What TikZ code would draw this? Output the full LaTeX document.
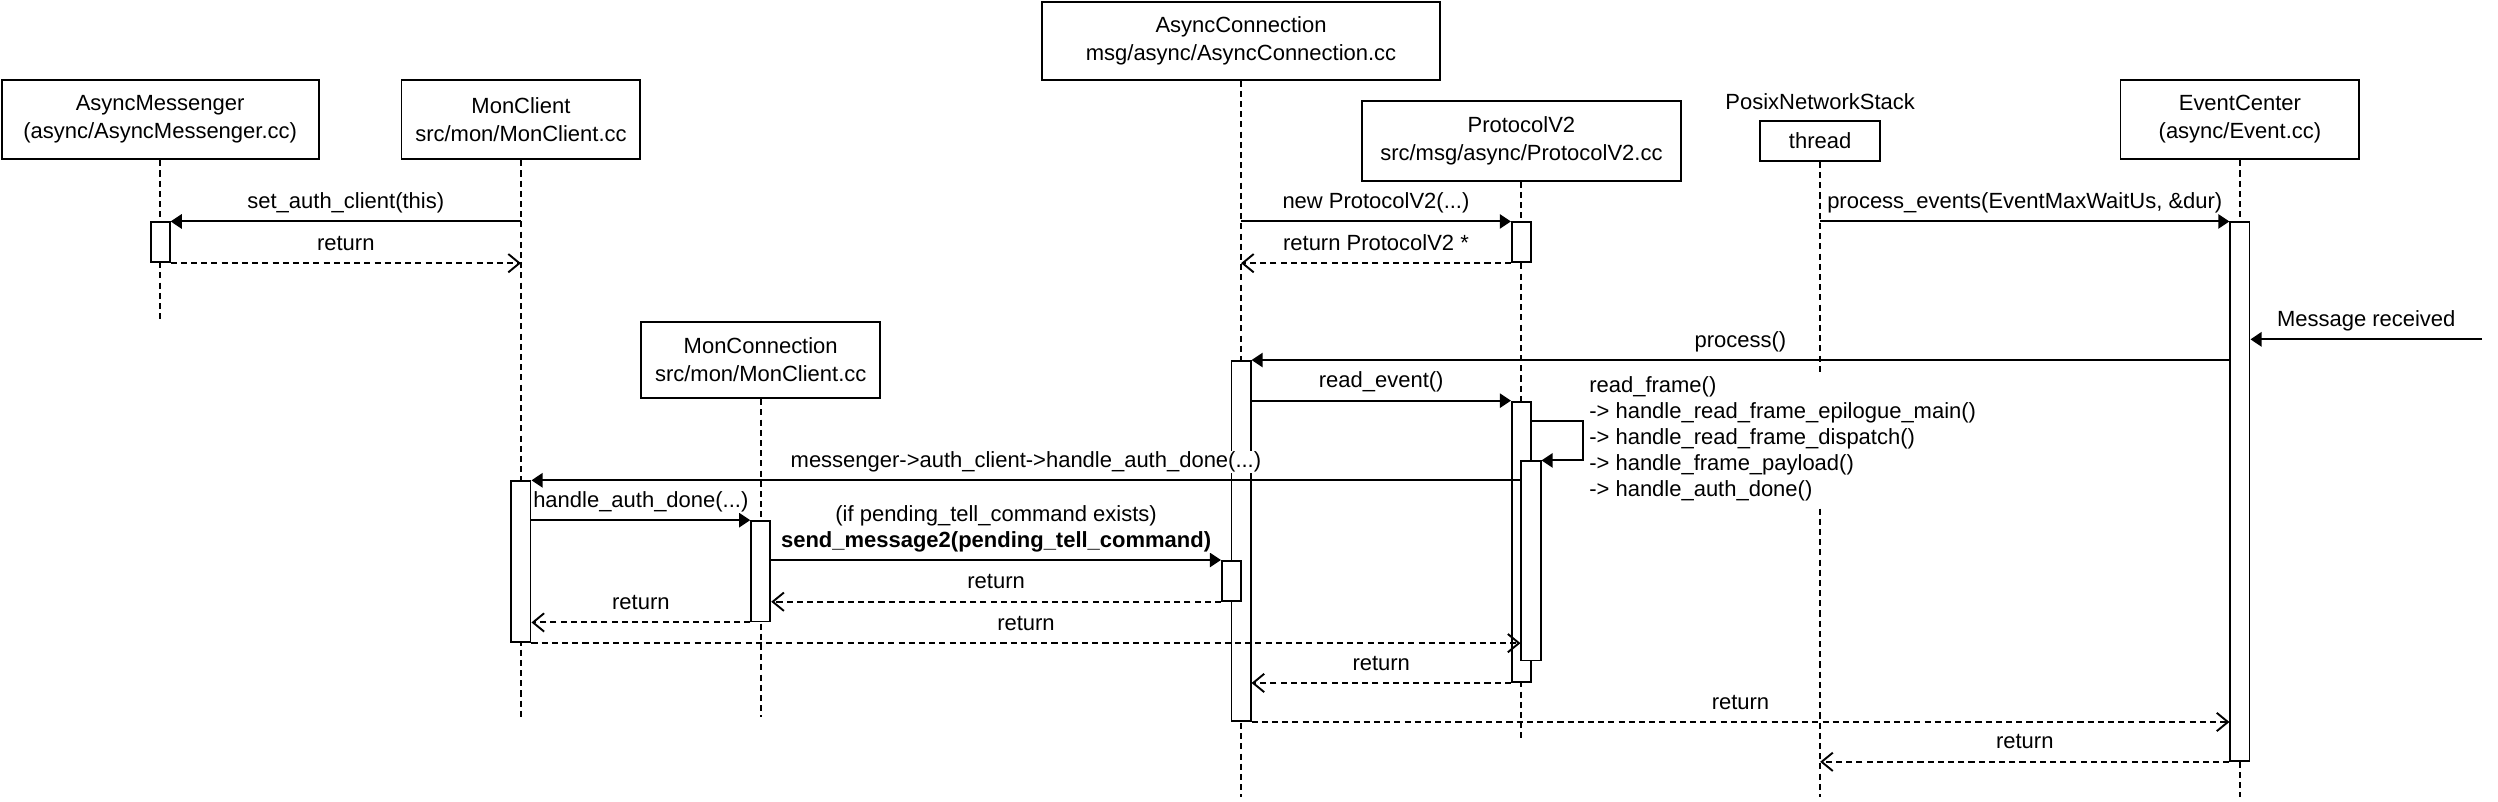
\documentclass[tikz,border=0pt]{standalone}
\usepackage{fontspec}
\setmainfont{Liberation Sans}
\usetikzlibrary{arrows.meta}

\begin{document}
\begin{tikzpicture}[x=1pt,y=-1pt,line width=1.2pt,
    font=\fontsize{13.8}{17.5}\selectfont,
    actor/.style={draw,fill=white,align=center,inner sep=0pt},
    bar/.style={draw,fill=white,minimum width=12pt,inner sep=0pt,anchor=north},
    life/.style={dash pattern=on 3.8pt off 2.6pt},
    call/.style={-{Triangle[length=7pt,width=9pt]}},
    ret/.style={dash pattern=on 3.8pt off 2.6pt,-{Straight Barb[length=7pt,width=11.5pt]}},
    msg/.style={above=4pt,fill=white,inner sep=0pt,text depth=3.5pt}]
  \useasboundingbox (0,0) rectangle (1568,503);

  \node[actor,minimum width=199pt,minimum height=50pt] (amsg) at (100.5,75) {AsyncMessenger\\(async/AsyncMessenger.cc)};
  \node[actor,minimum width=150pt,minimum height=50pt] (mcl) at (327,75) {MonClient\\src/mon/MonClient.cc};
  \node[actor,minimum width=150pt,minimum height=48pt] (mcon) at (477.5,226) {MonConnection\\src/mon/MonClient.cc};
  \node[actor,minimum width=250pt,minimum height=49pt] (aconn) at (779,25.5) {AsyncConnection\\msg/async/AsyncConnection.cc};
  \node[actor,minimum width=200pt,minimum height=50pt] (proto) at (955,88.5) {ProtocolV2\\src/msg/async/ProtocolV2.cc};
  \node (pns) at (1142.5,64) {PosixNetworkStack};
  \node[actor,minimum width=75pt,minimum height=25pt] (thr) at (1142.5,88.5) {thread};
  \node[actor,minimum width=150pt,minimum height=50pt] (evc) at (1406,75) {EventCenter\\(async/Event.cc)};

  \foreach \n/\e in {amsg/200,mcl/450,mcon/450,aconn/500,proto/463,thr/500,evc/500}
    \draw[life] (\n.south) -- (\n.south |- 0,\e);

  \node[bar,minimum height=25pt] (amsg1) at (amsg.south |- 0,139) {};
  \node[bar,minimum height=25pt] (proto1) at (proto.south |- 0,139) {};
  \node[bar,minimum height=338pt] (evc1) at (evc.south |- 0,139) {};
  \node[bar,minimum height=226pt] (aconn1) at (aconn.south |- 0,226) {};
  \node[bar,minimum height=176pt] (proto2) at (proto.south |- 0,251.5) {};
  \node[bar,minimum height=125pt,xshift=6pt] (proto3) at (proto.south |- 0,289) {};
  \node[bar,minimum height=101pt] (mcl1) at (mcl.south |- 0,301.5) {};
  \node[bar,minimum height=63pt] (mcon1) at (mcon.south |- 0,326.5) {};
  \node[bar,minimum height=25pt,xshift=-6pt] (aconn2) at (aconn.south |- 0,351.5) {};
  \coordinate (ext) at (1558,213);

  \draw[call] (mcl.south |- amsg1.north) -- node[msg] {set\_auth\_client(this)} (amsg1.north east);
  \draw[ret] (amsg1.south east) -- node[msg] {return} (mcl.south |- amsg1.south);
  \draw[call] (aconn.south |- proto1.north) -- node[msg] {new ProtocolV2(...)} (proto1.north west);
  \draw[ret] (proto1.south west) -- node[msg] {return ProtocolV2 *} (aconn.south |- proto1.south);
  \draw[call] (thr.south |- evc1.north) -- node[msg] {process\_events(EventMaxWaitUs, \&dur)} (evc1.north west);
  \draw[call] (ext) -- node[msg] {Message received} (evc1.east |- ext);
  \draw[call] (evc1.west |- aconn1.north) -- node[msg] {process()} (aconn1.north east);
  \draw[call] (aconn1.east |- proto2.north) -- node[msg] {read\_event()} (proto2.north west);
  \draw[call] ([yshift=-12.5pt]proto2.north east) -- ++(32,0) |- (proto3.north east);
  \node[anchor=north west,fill=white,align=left,inner sep=2pt,font=\fontsize{13.8}{16.3}\selectfont] (rf) at (995,234)
    {read\_frame()\\-> handle\_read\_frame\_epilogue\_main()\\-> handle\_read\_frame\_dispatch()\\-> handle\_frame\_payload()\\-> handle\_auth\_done()};
  \draw[call] (proto3.west |- mcl1.north) -- node[msg] {messenger->auth\_client->handle\_auth\_done(...)} (mcl1.north east);
  \draw[call] (mcl1.east |- mcon1.north) -- node[msg] {handle\_auth\_done(...)} (mcon1.north west);
  \draw[call] (mcon1.east |- aconn2.north) -- node[msg,align=center,font=\fontsize{13.8}{16}\selectfont]
    {(if pending\_tell\_command exists)\\\textbf{send\_message2(pending\_tell\_command)}} (aconn2.north west);
  \draw[ret] (aconn2.south west) -- node[msg] {return} (mcon1.east |- aconn2.south);
  \draw[ret] (mcon1.south west) -- node[msg] {return} (mcl1.east |- mcon1.south);
  \draw[ret] (mcl1.south east) -- node[msg] {return} (proto3.west |- mcl1.south);
  \draw[ret] (proto2.south west) -- node[msg] {return} (aconn1.east |- proto2.south);
  \draw[ret] (aconn1.south east) -- node[msg] {return} (evc1.west |- aconn1.south);
  \draw[ret] (evc1.south west) -- node[msg] {return} (thr.south |- evc1.south);
\end{tikzpicture}
\end{document}
